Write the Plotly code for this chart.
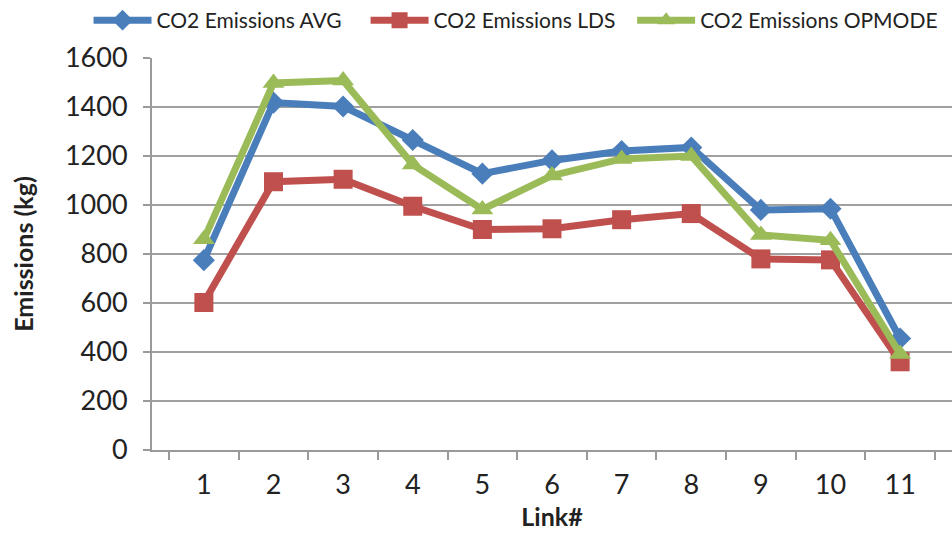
import plotly.graph_objects as go

links = ["1", "2", "3", "4", "5", "6", "7", "8", "9", "10", "11"]
co2_avg = [775, 1418, 1402, 1265, 1128, 1182, 1220, 1235, 980, 985, 455]
co2_lds = [602, 1095, 1105, 995, 900, 903, 940, 965, 780, 776, 360]
co2_opmode = [860, 1498, 1508, 1165, 982, 1120, 1188, 1200, 878, 856, 392]

# name, values, colour, marker, marker size, legend id, legend x (container)
series = [
    ("CO2 Emissions AVG", co2_avg, "#4A7EBB", "diamond", 17, "legend", 0.093),
    ("CO2 Emissions LDS", co2_lds, "#C0504D", "square", 19, "legend2", 0.384),
    ("CO2 Emissions OPMODE", co2_opmode, "#9BBB59", "triangle-up", 19, "legend3", 0.664),
]

fig = go.Figure()
legend_layout = {}
for name, vals, color, sym, size, leg, lx in series:
    fig.add_trace(go.Scatter(
        x=links, y=vals, name=name, mode="lines+markers",
        line=dict(color=color, width=7),
        marker=dict(symbol=sym, size=size, color=color),
        legend=leg,
    ))
    legend_layout[leg] = dict(
        orientation="h", x=lx, xref="container", y=1.0, yref="container",
        yanchor="top", xanchor="left", itemwidth=58,
        font=dict(size=21, color="#222"), bgcolor="rgba(0,0,0,0)",
    )

fig.update_layout(
    width=952, height=539,
    margin=dict(l=152, r=0, t=58, b=89),
    paper_bgcolor="white", plot_bgcolor="white",
    font=dict(family="Lato, sans-serif", color="#222"),
    showlegend=True,
    xaxis=dict(type="category", tickson="boundaries", ticks="outside",
               ticklen=8, tickwidth=2, tickcolor="#9a9a9a",
               showline=True, linecolor="#9a9a9a", linewidth=2,
               showgrid=False, tickfont=dict(size=27, color="#222"),
               ticklabelstandoff=10,
               title=dict(text="<b>Link#</b>", font=dict(size=25, color="#222"),
                          standoff=9)),
    yaxis=dict(range=[0, 1600], dtick=200, ticks="outside", ticklen=7,
               tickwidth=2, tickcolor="#9a9a9a",
               showline=True, linecolor="#9a9a9a", linewidth=2,
               showgrid=True, gridcolor="#a0a0a0", gridwidth=2,
               zeroline=False, tickfont=dict(size=27, color="#222"),
               ticklabelstandoff=10,
               title=dict(text="<b>Emissions (kg)</b>",
                          font=dict(size=25, color="#222"), standoff=24)),
    **legend_layout,
)

fig.write_html("out.html")
